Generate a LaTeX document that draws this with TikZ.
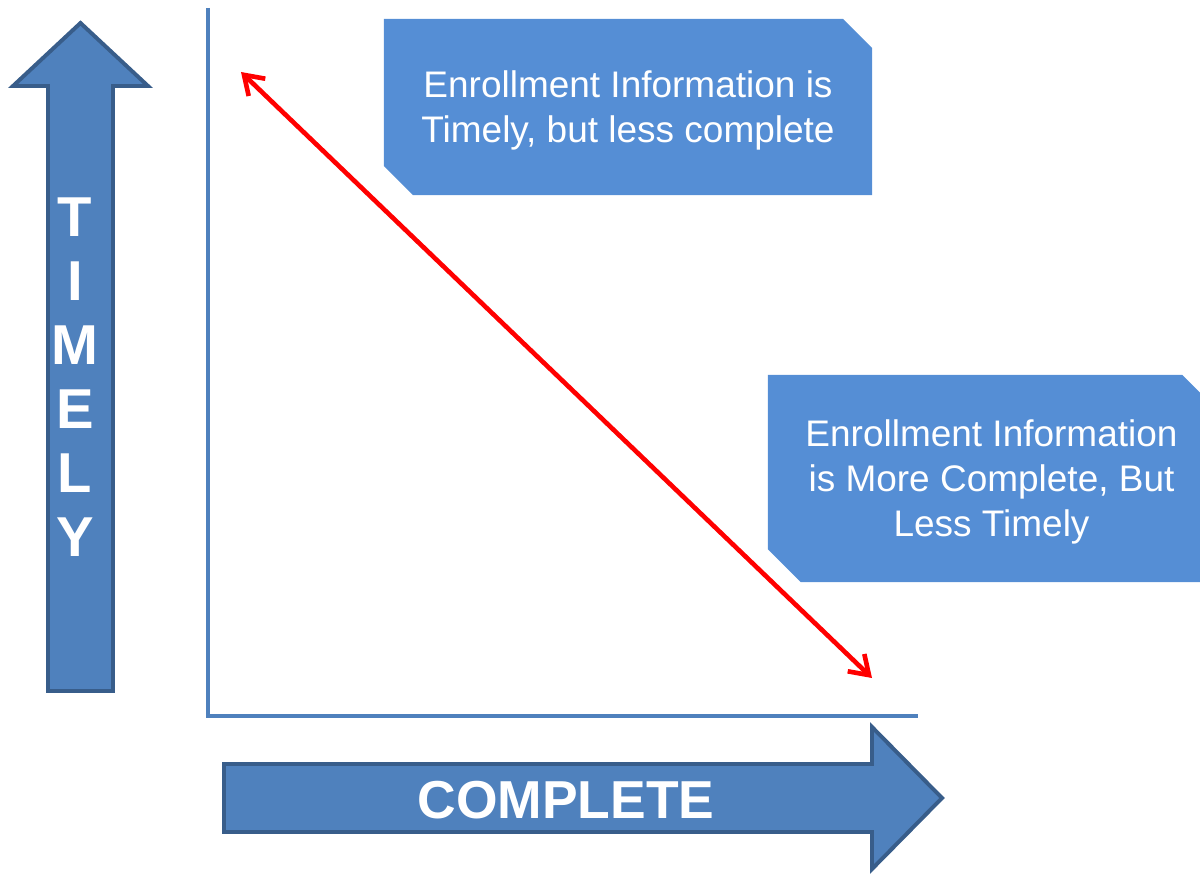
\documentclass[tikz,border=0pt]{standalone}
\usepackage{fontspec}
\setmainfont{Liberation Sans}
\usepackage{tikz}
\usetikzlibrary{positioning, shapes.misc, arrows.meta}
\definecolor{boxblue}{HTML}{558ED5}
\definecolor{arrowblue}{HTML}{4F81BD}
\definecolor{arrowedge}{HTML}{385D8A}

\begin{document}
\begin{tikzpicture}[
    x=0.025cm, y=-0.025cm,
    infobox/.style={chamfered rectangle, chamfered rectangle corners={north east, south west}, fill=boxblue, text=white, align=center, text depth=0pt, inner sep=0pt, font=\fontsize{26.3}{32}\selectfont},
    bigarrow/.style={fill=arrowblue, draw=arrowedge, line width=2.8pt, line join=miter},
    axis/.style={draw=arrowblue, line width=2.9pt},
    label/.style={text=white, align=center, font=\bfseries\fontsize{40}{45.5}\selectfont},
    arrow/.style={{Straight Barb[length=0.45cm, width=0.6cm]}-{Straight Barb[length=0.45cm, width=0.6cm]}, red, line width=3.3pt}
]
\useasboundingbox (0,0) rectangle (1200,873);

% Axes
\coordinate (top) at (208,8);
\coordinate (origin) at (208,716);
\coordinate (end) at (918,716);
\draw[axis] (top) -- (origin) -- (end);

% Big arrows
\draw[bigarrow] (80.5,23) -- (148,86) -- (113,86) -- (113,691) -- (48,691) -- (48,86) -- (13,86) -- cycle;
\draw[bigarrow] (224,764) -- (872,764) -- (872,727) -- (942,798) -- (872,869) -- (872,832) -- (224,832) -- cycle;

% Labels
\node[label] (timely) at (75,377) {T\\I\\M\\E\\L\\Y};
\node[label, font=\bfseries\fontsize{38}{40}\selectfont] (complete) at (566,800) {COMPLETE};

% Boxes
\node[infobox, minimum width=12.2cm, minimum height=4.4cm, chamfered rectangle xsep=0.3625cm, chamfered rectangle ysep=0.3625cm] (timelybox) at (628,107) {Enrollment Information is\\Timely, but less complete};
\node[infobox, minimum width=11.175cm, minimum height=5.175cm, chamfered rectangle xsep=0.41cm, chamfered rectangle ysep=0.41cm] (completebox) at (991.5,478.5) {Enrollment Information\\is More Complete, But\\Less Timely};

% Trade-off
\coordinate (hi) at (241,72);
\coordinate (lo) at (872,678);
\draw[arrow] (hi) -- (lo);

\end{tikzpicture}
\end{document}
